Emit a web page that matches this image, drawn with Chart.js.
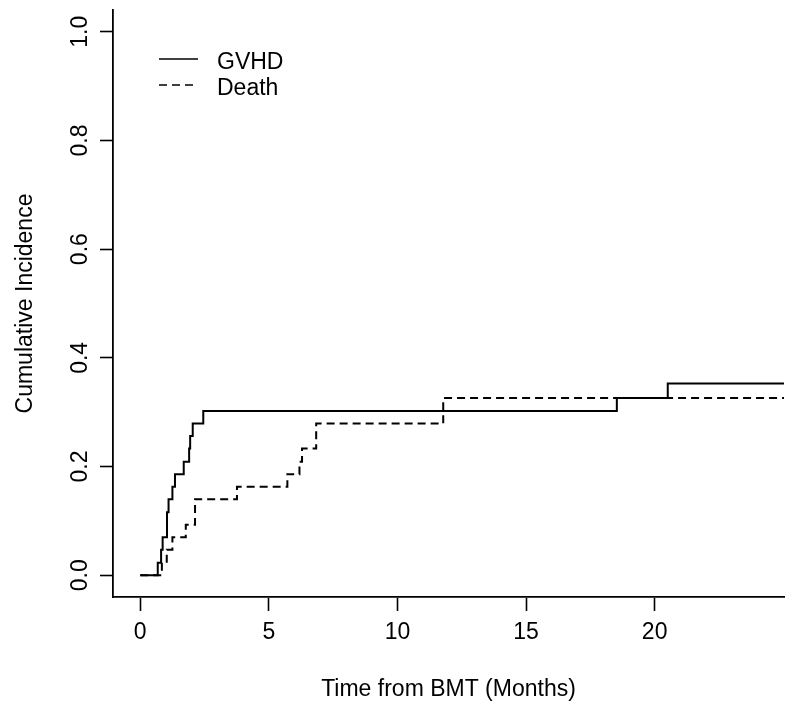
<!DOCTYPE html>
<html>
<head>
<meta charset="utf-8">
<title>Cumulative Incidence</title>
<script src="https://cdn.jsdelivr.net/npm/chart.js@4/dist/chart.umd.min.js"></script>
<style>
    html, body { margin: 0; padding: 0; background: #fff; }
    #cifChart { display: block; }
</style>
</head>
<body>
<canvas id="cifChart" width="800" height="713"></canvas>
<script>
// step points (months, cumulative incidence)
const gvhdTime = [0, 0.68, 0.81, 0.87, 1.04, 1.10, 1.25, 1.35, 1.69, 1.90, 1.94, 2.04, 2.45, 18.53, 20.51, 25.03];
const gvhdCif  = [0, 0.023, 0.047, 0.070, 0.116, 0.140, 0.163, 0.186, 0.209, 0.233, 0.256, 0.279, 0.302, 0.326, 0.353, 0.353];

const deathTime = [0, 0.84, 1.03, 1.25, 1.77, 2.13, 3.76, 5.72, 6.19, 6.29, 6.84, 11.78, 25.03];
const deathCif  = [0, 0.023, 0.047, 0.070, 0.093, 0.140, 0.163, 0.186, 0.209, 0.233, 0.279, 0.326, 0.326];

const xTicks = [0, 5, 10, 15, 20];
const yTicks = [0, 0.2, 0.4, 0.6, 0.8, 1.0];

const FONT = '"Liberation Sans", Arial, Helvetica, sans-serif';
const FONT_SIZE = 23;

function toPoints(xs, ys) {
    return xs.map((x, i) => ({ x: x, y: ys[i] }));
}

// R style vertical labels on the y axis
const yLabelPlugin = {
    id: 'yLabels',
    afterDraw(chart) {
        const ctx = chart.ctx;
        const scale = chart.scales.y;
        ctx.save();
        ctx.fillStyle = '#000';
        ctx.font = FONT_SIZE + 'px ' + FONT;
        ctx.textAlign = 'center';
        ctx.textBaseline = 'middle';
        scale.ticks.forEach(t => {
            const py = scale.getPixelForValue(t.value);
            ctx.save();
            ctx.translate(81, py);
            ctx.rotate(-Math.PI / 2);
            ctx.fillText(t.value.toFixed(1), 0, 0);
            ctx.restore();
        });
        ctx.restore();
    }
};

// legend box without border, top left of the plot
const legendPlugin = {
    id: 'rLegend',
    afterDraw(chart) {
        const ctx = chart.ctx;
        ctx.save();
        ctx.font = FONT_SIZE + 'px ' + FONT;
        ctx.textAlign = 'left';
        ctx.textBaseline = 'middle';
        chart.data.datasets.forEach((ds, i) => {
            const ly = 59 + i * 26;
            ctx.strokeStyle = ds.borderColor;
            ctx.lineWidth = 1.6;
            ctx.setLineDash(ds.borderDash || []);
            ctx.beginPath();
            ctx.moveTo(159, ly);
            ctx.lineTo(198, ly);
            ctx.stroke();
            ctx.setLineDash([]);
            ctx.fillStyle = '#000';
            ctx.fillText(ds.label, 217, ly + 4);
        });
        ctx.restore();
    }
};

function renderChart() {
    const ctx = document.getElementById('cifChart').getContext('2d');
    new Chart(ctx, {
        type: 'line',
        data: {
            datasets: [{
                label: 'GVHD',
                data: toPoints(gvhdTime, gvhdCif),
                stepped: 'before',
                borderColor: '#000',
                borderWidth: 2,
                pointRadius: 0,
                fill: false
            }, {
                label: 'Death',
                data: toPoints(deathTime, deathCif),
                stepped: 'before',
                borderColor: '#000',
                borderWidth: 2,
                borderDash: [8, 5],
                pointRadius: 0,
                fill: false
            }]
        },
        options: {
            responsive: false,
            animation: false,
            layout: { padding: { left: 0, top: 10, right: 16, bottom: 0 } },
            plugins: {
                legend: { display: false },
                tooltip: { enabled: false }
            },
            scales: {
                x: {
                    type: 'linear',
                    min: -1.06,
                    max: 25.03,
                    afterBuildTicks: s => { s.ticks = xTicks.map(v => ({ value: v })); },
                    afterFit: s => { s.height = 116; },
                    grid: {
                        drawOnChartArea: false,
                        drawTicks: true,
                        tickLength: 14,
                        tickColor: '#000',
                        tickWidth: 1.6
                    },
                    border: { display: true, color: '#000', width: 1.8 },
                    ticks: {
                        color: '#000',
                        padding: 8,
                        maxRotation: 0,
                        font: { family: FONT, size: FONT_SIZE },
                        callback: v => String(v)
                    },
                    title: {
                        display: true,
                        text: 'Time from BMT (Months)',
                        color: '#000',
                        font: { family: FONT, size: FONT_SIZE },
                        padding: { top: 0, bottom: 10 }
                    }
                },
                y: {
                    type: 'linear',
                    min: -0.04,
                    max: 1.04,
                    afterBuildTicks: s => { s.ticks = yTicks.map(v => ({ value: v })); },
                    afterFit: s => { s.width = 113; },
                    grid: {
                        drawOnChartArea: false,
                        drawTicks: true,
                        tickLength: 13,
                        tickColor: '#000',
                        tickWidth: 1.6
                    },
                    border: { display: true, color: '#000', width: 1.8 },
                    ticks: {
                        // drawn rotated by yLabelPlugin
                        color: 'rgba(0,0,0,0)',
                        font: { family: FONT, size: 1 },
                        callback: v => v.toFixed(1)
                    },
                    title: {
                        display: true,
                        text: 'Cumulative Incidence',
                        color: '#000',
                        font: { family: FONT, size: FONT_SIZE },
                        padding: { top: 12, bottom: 0 }
                    }
                }
            }
        },
        plugins: [yLabelPlugin, legendPlugin]
    });
}

renderChart();
</script>
</body>
</html>
